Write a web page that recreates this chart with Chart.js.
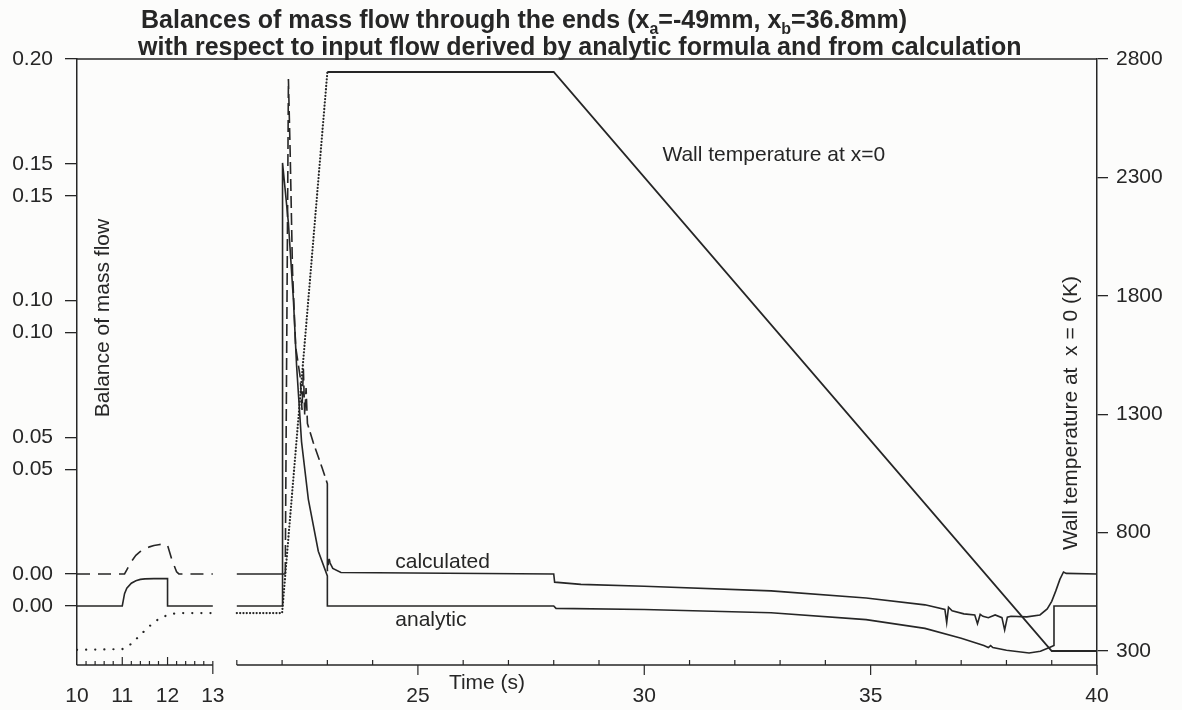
<!DOCTYPE html>
<html>
<head>
<meta charset="utf-8">
<script src="https://cdn.jsdelivr.net/npm/chart.js@4.4.1/dist/chart.umd.min.js"></script>
<style>
  html, body { margin: 0; padding: 0; background: #fcfcfb; }
  #wrap { width: 1182px; height: 710px; }
</style>
</head>
<body>
<div id="wrap"><canvas id="chart" width="1182" height="710"></canvas></div>
<script>
// ---- data (time in s) ----
// analytic balance, plotted on the left axis as is
var analyticTime = [10, 11, 11.05, 11.1, 11.2, 11.3, 11.4, 11.5, 11.7, 12, 12, 13, 17,
    21, 22, 22.01, 22.14, 22.25, 22.32, 22.43, 22.58, 22.8, 23, 23, 28, 28.05, 30, 32.8,
    34.9, 36.2, 37, 37.5, 37.6, 37.65, 37.7, 38, 38.5, 38.75, 38.95, 39.05, 39.05, 40];
var analyticValue = [0, 0, 0.0045, 0.0065, 0.0083, 0.0092, 0.0097, 0.0099, 0.01, 0.01, 0, 0, null,
    0, 0, 0.162, 0.140, 0.112, 0.088, 0.060, 0.039, 0.020, 0.011, 0, 0, -0.0009, -0.0013, -0.0025,
    -0.0050, -0.0082, -0.0118, -0.0145, -0.0152, -0.0145, -0.0152, -0.0162, -0.0172, -0.0166, -0.0152, -0.0145, 0, 0];

// calculated balance, shifted up by calcOffset on the same axis
var calcTime = [10, 11.05, 11.1, 11.2, 11.3, 11.4, 11.5, 11.6, 11.7, 11.8, 11.93, 12, 12.1, 12.2, 12.25, 13, 17,
    21, 22.07, 22.14, 22.18, 22.23, 22.3, 22.4, 22.44, 22.47, 22.5, 22.53, 22.56, 22.69, 22.88, 23, 23,
    23.04, 23.06, 23.12, 23.3, 28, 28.02, 28.6, 30, 32.8, 34.9, 36.2, 36.64, 36.68, 36.72, 36.8, 37.06,
    37.3, 37.36, 37.42, 37.48, 37.6, 37.75, 37.9, 37.96, 38.02, 38.1, 38.45, 38.74, 38.9, 39, 39.09,
    39.18, 39.26, 39.32, 40];
var calcValue = [0, 0, 0.0015, 0.0045, 0.0068, 0.0082, 0.0092, 0.0099, 0.0104, 0.0107, 0.011, 0.0105, 0.005, 0.0008, 0, 0, null,
    0, 0, 0.181, 0.153, 0.111, 0.083, 0.072, 0.060, 0.075, 0.058, 0.068, 0.055, 0.048, 0.039, 0.033, 0.001,
    0.0055, 0.004, 0.002, 0.0005, 0, -0.003, -0.0038, -0.0045, -0.0062, -0.0088, -0.0113, -0.0130, -0.0178, -0.0122, -0.0135, -0.0146,
    -0.0150, -0.0182, -0.0148, -0.0155, -0.0160, -0.0150, -0.0160, -0.0205, -0.0158, -0.0155, -0.0157, -0.0150, -0.0128, -0.0100, -0.0062,
    -0.0020, 0.0007, 0.0002, 0];
var calcOffset = 0.0117;

// wall temperature at x=0 (K), right axis
var tempTime = [10, 11, 11.2, 11.4, 11.6, 11.8, 12, 12.2, 13, 17, 21, 22, 23, 28, 39, 40];
var tempValue = [305, 308, 330, 368, 405, 435, 452, 460, 460, null, 460, 460, 2745, 2745, 300, 300];

// ticks
var timeTicks = [10, 11, 12, 13, 25, 30, 35, 40];
var balanceTicks = [0, 0.05, 0.10, 0.15, 0.20];
var calcTicks = [0, 0.05, 0.10, 0.15];
var tempTicks = [300, 800, 1300, 1800, 2300, 2800];

var titleLine1 = [{text: 'Balances of mass flow through the ends (x'}, {text: 'a', sub: true},
    {text: '=-49mm, x'}, {text: 'b', sub: true}, {text: '=36.8mm)'}];
var titleLine2 = [{text: 'with respect to input flow derived by analytic formula and from calculation'}];

// time axis is cut between 13 s and 21 s
var breakStart = 13, breakEnd = 21, breakGap = 0.53;

var ink = '#262626';
var family = '"Liberation Sans", Arial, sans-serif';

class BrokenScale extends Chart.LinearScale {
    getPixelForValue(value) {
        var cut = breakEnd - breakStart - breakGap;
        var u = value <= breakStart ? value : value - cut;
        return this.getPixelForDecimal((u - this.min) / (this.max - this.min - cut));
    }
}
BrokenScale.id = 'broken';
BrokenScale.defaults = Chart.LinearScale.defaults;
Chart.register(BrokenScale);

function points(xs, ys, shift) {
    return xs.map(function(t, i) {
        return {x: t, y: ys[i] === null ? null : ys[i] + (shift || 0)};
    });
}

var bgPlugin = {
    id: 'bg',
    beforeDraw: function(chart) {
        var ctx = chart.ctx;
        ctx.save();
        ctx.fillStyle = '#fcfcfb';
        ctx.fillRect(0, 0, chart.width, chart.height);
        ctx.restore();
    }
};

// broken time axis, its tick marks and the top frame line
var framePlugin = {
    id: 'frame',
    afterDatasetsDraw: function(chart) {
        var ctx = chart.ctx, a = chart.chartArea, xs = chart.scales.x;
        var yb = a.bottom;
        ctx.save();
        ctx.strokeStyle = ink;
        ctx.lineWidth = 1.5;
        function seg(x1, y1, x2, y2) {
            ctx.beginPath(); ctx.moveTo(x1, y1); ctx.lineTo(x2, y2); ctx.stroke();
        }
        seg(a.left, a.top, a.right, a.top);
        seg(xs.getPixelForValue(10), yb, xs.getPixelForValue(breakStart), yb);
        seg(xs.getPixelForValue(breakEnd), yb, xs.getPixelForValue(40), yb);
        seg(a.right, yb, a.right, yb + 10);
        ctx.lineWidth = 1.2;
        for (var k = 1; k < 15; k++) {
            var t = 10 + k * 0.2;
            var px = xs.getPixelForValue(t);
            seg(px, yb, px, yb - (k % 5 === 0 ? 8 : 4));
        }
        var p13 = xs.getPixelForValue(13);
        seg(p13, yb - 4, p13, yb + 9);
        for (var s = breakEnd; s < 40; s++) {
            var ps = xs.getPixelForValue(s);
            if (s % 5 === 0) seg(ps, yb, ps, yb + 10);
            else seg(ps, yb, ps, yb - 5);
        }
        ctx.restore();
    }
};

function drawRuns(ctx, runs, x, y) {
    runs.forEach(function(r) {
        ctx.font = r.sub ? 'bold 16px ' + family : 'bold 25px ' + family;
        ctx.fillText(r.text, x, y + (r.sub ? 6 : 0));
        x += ctx.measureText(r.text).width;
    });
}

var textPlugin = {
    id: 'texts',
    afterDraw: function(chart) {
        var ctx = chart.ctx, a = chart.chartArea;
        var xs = chart.scales.x, yb = chart.scales.y, yt = chart.scales.yT;
        ctx.save();
        ctx.fillStyle = ink;
        ctx.textAlign = 'left';
        ctx.textBaseline = 'alphabetic';
        drawRuns(ctx, titleLine1, 141, 28);
        drawRuns(ctx, titleLine2, 138, 55);

        ctx.font = '21px ' + family;
        ctx.textBaseline = 'middle';
        ctx.fillText('calculated', xs.getPixelForValue(24.5), yb.getPixelForValue(0.0161));
        ctx.fillText('analytic', xs.getPixelForValue(24.5), yb.getPixelForValue(-0.0051));
        ctx.fillText('Wall temperature at x=0', xs.getPixelForValue(30.4), yt.getPixelForValue(2395));

        ctx.textAlign = 'center';
        ctx.fillText('Time (s)', 487, a.bottom + 18);

        ctx.save();
        ctx.translate(a.left + 26, 318);
        ctx.rotate(-Math.PI / 2);
        ctx.fillText('Balance of mass flow', 0, 0);
        ctx.restore();

        ctx.save();
        ctx.translate(a.right - 26, 413);
        ctx.rotate(-Math.PI / 2);
        ctx.fillText('Wall temperature at  x = 0 (K)', 0, 0);
        ctx.restore();
        ctx.restore();
    }
};

Chart.defaults.font.family = family;
Chart.defaults.font.size = 21;
Chart.defaults.color = ink;

new Chart(document.getElementById('chart'), {
    type: 'line',
    data: {
        datasets: [{
            label: 'analytic',
            data: points(analyticTime, analyticValue),
            yAxisID: 'y',
            borderColor: ink,
            borderWidth: 1.6
        }, {
            label: 'calculated',
            data: points(calcTime, calcValue, calcOffset),
            yAxisID: 'y',
            borderColor: ink,
            borderWidth: 1.6,
            segment: {
                borderDash: function(c) {
                    var x0 = c.p0.parsed.x;
                    if (x0 < 13.5) return [13, 8];
                    if (x0 >= 22 && x0 < 23.02) return [12, 5];
                    return undefined;
                }
            }
        }, {
            label: 'Wall temperature at x=0',
            data: points(tempTime, tempValue),
            yAxisID: 'yT',
            borderColor: ink,
            borderWidth: 1.8,
            segment: {
                borderDash: function(c) {
                    var x0 = c.p0.parsed.x;
                    if (x0 < 13.5) return [0.1, 9];
                    if (x0 < 22.99) return [0.1, 3.2];
                    return undefined;
                },
                borderCapStyle: function(c) {
                    return c.p0.parsed.x < 22.99 ? 'round' : 'butt';
                },
                borderWidth: function(c) {
                    return c.p0.parsed.x < 22.99 ? 2.2 : 1.8;
                }
            }
        }]
    },
    options: {
        responsive: false,
        animation: false,
        devicePixelRatio: 1,
        spanGaps: false,
        elements: { point: { radius: 0 }, line: { tension: 0 } },
        layout: { padding: { top: 59, left: 0, right: 0, bottom: 0 } },
        plugins: { legend: { display: false }, tooltip: { enabled: false }, title: { display: false } },
        scales: {
            x: {
                type: 'broken',
                min: 10,
                max: 40,
                grid: { display: false, drawTicks: false },
                border: { display: false },
                ticks: { autoSkip: false, maxRotation: 0, padding: 19, callback: function(v) { return String(v); } },
                afterBuildTicks: function(s) { s.ticks = timeTicks.map(function(v) { return {value: v}; }); },
                afterFit: function(s) { s.height = 45; }
            },
            y: {
                position: 'left',
                min: -0.0216,
                max: 0.20,
                grid: { display: true, drawOnChartArea: false, drawTicks: true, tickLength: 12, color: ink, lineWidth: 1.3 },
                border: { display: true, color: ink, width: 1.5 },
                ticks: { padding: 12, callback: function(v, i, t) { return t[i].text; } },
                afterBuildTicks: function(s) {
                    var list = balanceTicks.map(function(v) { return {value: v, text: v.toFixed(2)}; })
                        .concat(calcTicks.map(function(v) { return {value: v + calcOffset, text: v.toFixed(2)}; }));
                    list.sort(function(p, q) { return p.value - q.value; });
                    s.ticks = list;
                },
                afterFit: function(s) { s.width = 77; }
            },
            yT: {
                position: 'right',
                min: 240.9,
                max: 2800,
                grid: { display: true, drawOnChartArea: false, drawTicks: true, tickLength: 11, color: ink, lineWidth: 1.3 },
                border: { display: true, color: ink, width: 1.5 },
                ticks: { padding: 8, callback: function(v) { return String(v); } },
                afterBuildTicks: function(s) { s.ticks = tempTicks.map(function(v) { return {value: v}; }); },
                afterFit: function(s) { s.width = 85; }
            }
        }
    },
    plugins: [bgPlugin, framePlugin, textPlugin]
});
</script>
</body>
</html>
